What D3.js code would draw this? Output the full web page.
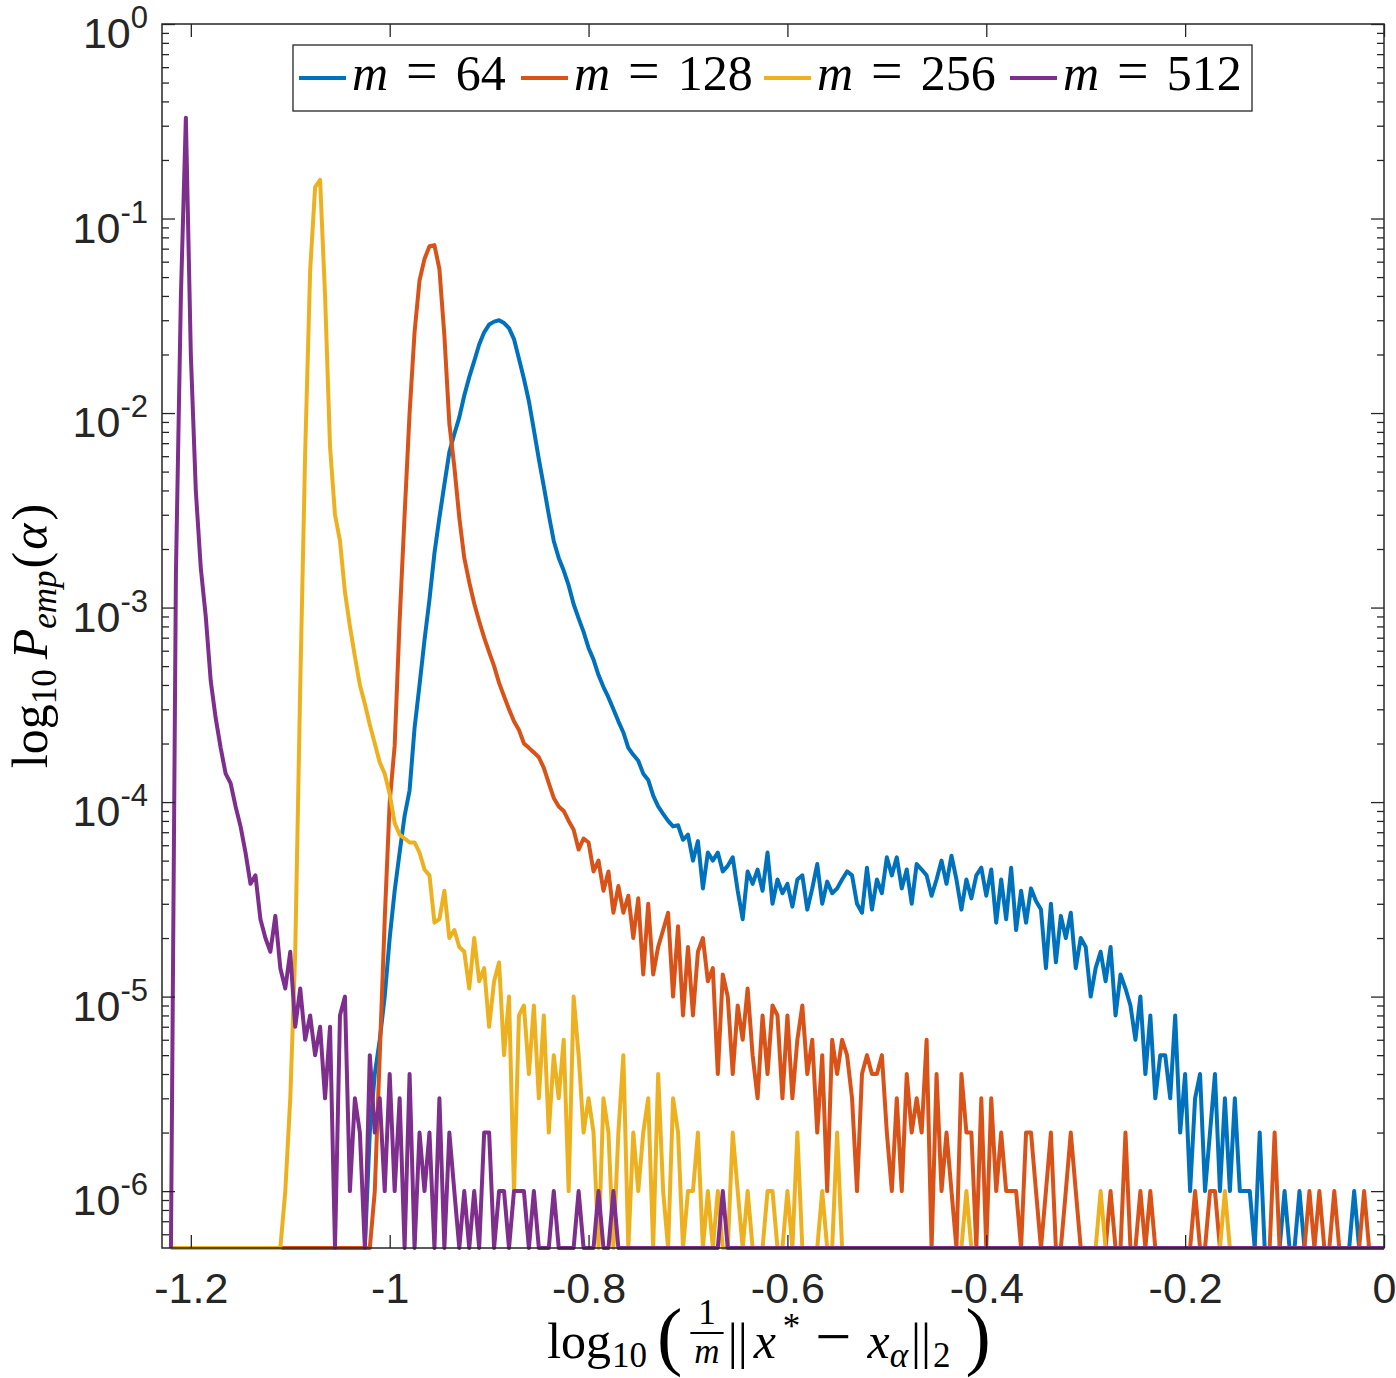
<!DOCTYPE html>
<html>
<head>
<meta charset="utf-8">
<script src="https://cdn.jsdelivr.net/npm/d3@7"></script>
<style>
	body { margin: 0; background: #fff; }
</style>
</head>
<body>
<svg id="chart" width="1396" height="1378"></svg>
<script>

// histogram bins: log10(||x*-x_a||/m), bin i sits at binStart + i*binWidth
const binStart = -1.22
const binWidth = 0.005
const nBins = 245
const nSamples = 1e6

// counts per bin (out of nSamples)
const countsM64 = [
	0,0,0,0,0,0,0,0,0,0, 0,0,0,0,0,0,0,0,0,0, 0,0,0,0,0,0,0,0,0,0, 0,0,0,0,0,0,0,0,0,0,
	2,4,6,10,20,35,55,85,115,240,
	400,680,1100,1900,2900,4300,6300,7800,9500,12300,
	15300,18500,22500,26000,28500,29500,30000,29000,27300,24000,
	19000,15000,11500,8200,5800,4200,3000,2200,1800,1550,
	1300,1040,880,750,620,540,450,390,345,300,
	260,228,190,175,163,140,130,108,95,87,
	80,75,76,64,68,50,63,36,55,50,
	55,44,47,52,35,25,44,38,45,35,
	55,30,40,34,38,29,40,42,28,36,
	48,30,39,34,36,40,44,42,30,27,
	46,28,40,34,52,42,52,36,45,30,
	48,45,42,33,40,50,38,53,40,28,
	40,32,42,46,33,45,24,40,25,46,
	22,35,24,36,31,28,14,30,15,26,
	20,27,14,20,18,10,14,17,12,18,
	8,13,11,9,6,10,4,8,3,5,
	5,3,8,2,4,1,3,4,1,2,
	4,1,3,1,3,1,1,1,0,2,
	0,0,0,0,1,0,0,1,0,0,
	0,0,0,0,0,0,0,0,1
]

const countsM128 = [
	0,0,0,0,0,0,0,0,0,0, 0,0,0,0,0,0,0,0,0,0, 0,0,0,0,0,0,0,0,0,0, 0,0,0,0,0,0,0,0,0,0,
	0,1,5,25,100,195,860,3000,10000,26000,
	48000,62000,72000,73000,55000,25000,8800,5300,2900,1800,
	1350,1050,850,700,590,500,410,350,300,260,
	235,200,190,180,170,150,125,105,95,90,
	80,72,57,65,62,44,50,35,44,27,
	37,27,33,20,32,13,30,13,18,22,
	27,10,23,8,18,8,17,20,12,14,
	4,13,10,4,9,6,11,5,3,8,
	4,9,8,3,8,3,6,9,4,6,
	2,5,1,6,4,6,5,3,1,4,
	5,4,4,5,2,1,3,1,4,2,
	3,2,6,0,4,1,2,1,0,4,
	2,2,0,3,0,3,1,2,1,1,
	1,0,2,2,1,0,1,2,0,0,
	1,2,1,0,0,0,0,0,0,1,
	0,0,2,0,0,1,0,1,0,0,
	0,0,0,0,0,0,1,0,0,1,
	1,0,0,0,0,0,0,0,0,0,
	0,0,2,0,0,0,0,0,0,1,
	0,1,0,0,1,0,0,0,0,0,
	1
]

const countsM256 = [
	0,0,0,0,0,0,0,0,0,0, 0,0,0,0,0,0,0,0,0,0,
	0,0,0,1,3,17,390,6300,54000,145000,
	158000,40000,6700,3000,2200,1200,800,560,400,320,
	250,200,160,140,110,78,68,65,62,62,
	55,45,42,24,25,35,20,22,18,17,
	11,20,12,14,7,12,15,5,10,1,
	8,9,4,9,3,8,2,5,3,6,
	1,10,5,2,3,2,0,3,2,0,
	2,5,0,2,1,2,3,0,4,1,
	0,3,2,0,1,1,2,0,1,0,
	1,0,0,2,1,0,1,0,0,0,
	1,1,0,0,1,0,2,0,0,0,
	0,1,0,0,2,0,0,0,0,0,
	0,0,0,0,0,0,0,0,0,0,
	0,0,0,0,0,0,0,0,0,0,
	1,0,0,0,0,0,0,0,0,0,
	0,0,0,0,0,0,0,0,0,0,
	0,0,0,0,0,0,0,1,0,0,
	0,0,0,0,0,0,0,0,0,0,
	0,0,0,0,0,0,0,0,0,0,
	0,0,1
]

const countsM512 = [
	0,1500,40000,330000,20000,4000,1600,900,420,270,
	190,140,125,95,75,55,38,42,25,20,
	17,26,14,11,17,7,11,6,8,5,
	7,3,7,0,8,10,1,3,2,0,
	5,2,3,1,4,1,3,0,4,0,
	2,1,2,0,3,0,2,1,0,1,
	0,1,0,2,2,0,1,1,0,1,
	1,1,0,1,0,0,0,1,0,0,
	0,0,1,0,0,0,1,0,0,1,
	0,0,0,0,0,0,0,0,0,0,
	0,0,0,0,0,0,0,0,0,0,
	0,1
]

const mValues = ['64', '128', '256', '512']
const colors = ['#0072BD', '#D95319', '#EDB120', '#7E2F8E']

const xTicks = [-1.2, -1, -0.8, -0.6, -0.4, -0.2, 0]
const xTickLabels = ['-1.2', '-1', '-0.8', '-0.6', '-0.4', '-0.2', '0']
const yTicks = [1, 1e-1, 1e-2, 1e-3, 1e-4, 1e-5, 1e-6]
const yTickExps = ['0', '-1', '-2', '-3', '-4', '-5', '-6']

const yMin = 5.1e-7
const axisColor = '#262626'
const serif = "'Liberation Serif','Times New Roman',serif"
const sans = "'Liberation Sans',Arial,Helvetica,sans-serif"

let width = 1396, height = 1378
let margin = {left: 162, right: 12, top: 24, bottom: 130}

let svg = d3.select('#chart')

let x = d3.scaleLinear().domain([-1.229, 0]).range([margin.left, width - margin.right])
let y = d3.scaleLog().domain([yMin, 1]).range([height - margin.bottom, margin.top])

let pad = arr => arr.concat(new Array(Math.max(0, nBins - arr.length)).fill(0))
let series = [countsM64, countsM128, countsM256, countsM512].map(pad)

svg.append('clipPath').attr('id', 'clip').append('rect')
	.attr('x', margin.left).attr('y', margin.top)
	.attr('width', width - margin.left - margin.right)
	.attr('height', height - margin.top - margin.bottom + 3)

let line = d3.line()
	.x((d, i) => x(binStart + i * binWidth))
	.y(d => y(Math.max(d / nSamples, yMin)))

svg.append('g').attr('clip-path', 'url(#clip)')
	.selectAll('path')
	.data(series)
	.enter().append('path')
	.attr('d', line)
	.attr('fill', 'none')
	.attr('stroke', (d, i) => colors[i])
	.attr('stroke-width', 4)
	.attr('stroke-linejoin', 'round')

// axes, ticks inward on all four sides
let yMinor = []
for (let e = -7; e < 0; e++) for (let k = 2; k <= 9; k++) {
	let v = k * Math.pow(10, e)
	if (v > yMin && v < 1) yMinor.push(v)
}

let bottom = height - margin.bottom, right = width - margin.right

svg.append('g').attr('transform', `translate(0,${bottom})`)
	.call(d3.axisBottom(x).tickValues(xTicks).tickSize(-13).tickPadding(24).tickFormat((d, i) => xTickLabels[i]))
svg.append('g').attr('transform', `translate(0,${margin.top})`)
	.call(d3.axisTop(x).tickValues(xTicks).tickSize(-13).tickFormat(''))
svg.append('g').attr('transform', `translate(${margin.left},0)`)
	.call(d3.axisLeft(y).tickValues(yTicks).tickSize(-13).tickFormat(''))
svg.append('g').attr('transform', `translate(${margin.left},0)`)
	.call(d3.axisLeft(y).tickValues(yMinor).tickSize(-7).tickFormat(''))
svg.append('g').attr('transform', `translate(${right},0)`)
	.call(d3.axisRight(y).tickValues(yTicks).tickSize(-13).tickFormat(''))
svg.append('g').attr('transform', `translate(${right},0)`)
	.call(d3.axisRight(y).tickValues(yMinor).tickSize(-7).tickFormat(''))

svg.selectAll('.domain').remove()
svg.selectAll('.tick line').attr('stroke', axisColor).attr('stroke-width', 1.3)
svg.selectAll('.tick text').attr('font-family', sans).attr('font-size', 43).attr('fill', axisColor)

svg.append('rect')
	.attr('x', margin.left).attr('y', margin.top)
	.attr('width', right - margin.left).attr('height', bottom - margin.top)
	.attr('fill', 'none').attr('stroke', axisColor).attr('stroke-width', 1.5)

// y tick labels 10^k
let yl = svg.append('g').attr('font-family', sans).attr('fill', axisColor)
yTicks.forEach((v, i) => {
	let t = yl.append('text').attr('x', 148).attr('y', y(v) + 24).attr('text-anchor', 'end')
	t.append('tspan').attr('font-size', 43).text('10')
	t.append('tspan').attr('font-size', 31).attr('dy', -20).text(yTickExps[i])
})

// lays text pieces out left to right, returns the total width
function run(g, parts) {
	let pos = 0
	parts.forEach(p => {
		pos += p.gap || 0
		if (p.num) {
			let num = g.append('text').attr('font-size', p.size).attr('text-anchor', 'middle').text(p.num)
			let den = g.append('text').attr('font-size', p.size).attr('font-style', 'italic').attr('text-anchor', 'middle').text(p.den)
			let w = Math.max(num.node().getComputedTextLength(), den.node().getComputedTextLength()) + 8
			num.attr('x', pos + w / 2).attr('y', p.numY)
			den.attr('x', pos + w / 2).attr('y', p.denY)
			g.append('line').attr('x1', pos).attr('x2', pos + w).attr('y1', p.barY).attr('y2', p.barY)
				.attr('stroke', '#000').attr('stroke-width', 1.8)
			pos += w
			return
		}
		let t = g.append('text').attr('x', pos).attr('y', p.dy || 0)
			.attr('font-size', p.size).attr('font-style', p.it ? 'italic' : 'normal').text(p.t)
		pos += t.node().getComputedTextLength()
	})
	return pos
}

// x label
let xl = svg.append('g').attr('font-family', serif).attr('fill', '#000')
let xw = run(xl, [
	{t: 'log', size: 50},
	{t: '10', size: 35, dy: 9, gap: 1},
	{t: '(', size: 76, dy: 3, gap: 10},
	{num: '1', den: 'm', size: 35, numY: -34, denY: 5, barY: -25, gap: 8},
	{t: '||', size: 50, gap: 4},
	{t: 'x', size: 50, it: true, gap: 6},
	{t: '*', size: 35, dy: -20, gap: 7},
	{t: '\u2212', size: 64, gap: 15},
	{t: 'x', size: 50, it: true, gap: 16},
	{t: '\u03b1', size: 35, it: true, dy: 9},
	{t: '||', size: 50, gap: 3},
	{t: '2', size: 35, dy: 9, gap: 2},
	{t: ')', size: 76, dy: 3, gap: 15}
])
xl.attr('transform', `translate(${(margin.left + right) / 2 - xw / 2 - 4},1358)`)

// y label
let ylab = svg.append('g').attr('transform', `translate(47,${(margin.top + bottom) / 2}) rotate(-90)`)
	.append('g').attr('font-family', serif).attr('fill', '#000')
let yw = run(ylab, [
	{t: 'log', size: 50},
	{t: '10', size: 35, dy: 9},
	{t: 'P', size: 50, it: true, gap: 10},
	{t: 'emp', size: 35, it: true, dy: 9},
	{t: '(', size: 50, gap: 2},
	{t: '\u03b1', size: 50, it: true, gap: 2},
	{t: ')', size: 50, gap: 3}
])
ylab.attr('transform', `translate(${-yw / 2},0)`)

// legend
let legend = svg.append('g')
legend.append('rect').attr('x', 293).attr('y', 45).attr('width', 959).attr('height', 66)
	.attr('fill', '#fff').attr('stroke', axisColor).attr('stroke-width', 1.3)
let itemX = [299, 521, 764, 1010]
mValues.forEach((m, i) => {
	legend.append('line').attr('x1', itemX[i]).attr('x2', itemX[i] + 47).attr('y1', 78).attr('y2', 78)
		.attr('stroke', colors[i]).attr('stroke-width', 4)
	let g = legend.append('g').attr('transform', `translate(${itemX[i] + 53},90)`)
		.attr('font-family', serif).attr('fill', '#000')
	run(g, [
		{t: 'm', size: 50, it: true},
		{t: '=', size: 56, gap: 18},
		{t: m, size: 50, gap: 18}
	])
})

</script>
</body>
</html>
